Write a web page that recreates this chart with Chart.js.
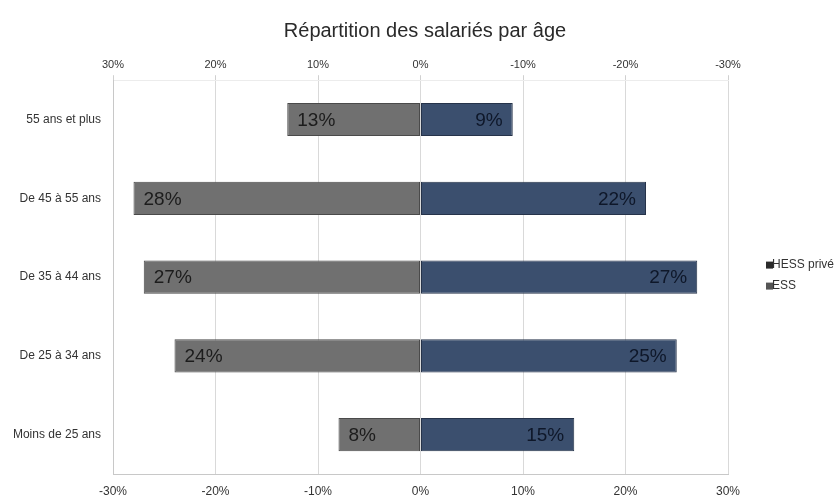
<!DOCTYPE html>
<html>
<head>
<meta charset="utf-8">
<script src="https://cdn.jsdelivr.net/npm/chart.js@4.4.1/dist/chart.umd.min.js"></script>
<style>
  html, body { margin: 0; padding: 0; background: #fff; }
  #wrap { width: 836px; height: 499px; }
</style>
</head>
<body>
<div id="wrap"><canvas id="ageChart" width="836" height="499"></canvas></div>
<script>
// Répartition des salariés par âge : ESS à gauche, HESS privé à droite
const ageGroups = ['55 ans et plus', 'De 45 à 55 ans', 'De 35 à 44 ans', 'De 25 à 34 ans', 'Moins de 25 ans'];
const essValues = [13, 28, 27, 24, 8];
const hessValues = [9, 22, 27, 25, 15];
const axisTicks = [-30, -20, -10, 0, 10, 20, 30];

const FONT = "'Liberation Sans', Arial, sans-serif";
const ESS_COLOR = '#707070';
const ESS_BORDER = '#4a4a4a';
const HESS_COLOR = '#3b4f6e';
const HESS_BORDER = '#26334a';

// pourcentages écrits dans les barres
const barLabels = {
  id: 'barLabels',
  afterDatasetsDraw(chart) {
    const { ctx } = chart;
    ctx.save();
    ctx.font = '19px ' + FONT;
    ctx.textBaseline = 'middle';
    chart.data.datasets.forEach((ds, i) => {
      const meta = chart.getDatasetMeta(i);
      meta.data.forEach((bar, j) => {
        const v = Math.abs(ds.data[j]);
        if (ds.data[j] < 0) {
          ctx.textAlign = 'left';
          ctx.fillStyle = '#1c1c1c';
          ctx.fillText(v + '%', bar.x + 10, bar.y + 1);
        } else {
          ctx.textAlign = 'right';
          ctx.fillStyle = '#0e1729';
          ctx.fillText(v + '%', bar.x - 10, bar.y + 1);
        }
      });
    });
    ctx.restore();
  }
};

// petite légende à droite du graphique
const sideLegend = {
  id: 'sideLegend',
  afterDraw(chart) {
    const { ctx, chartArea } = chart;
    const items = [
      { text: 'HESS privé', color: '#2b2b2b' },
      { text: 'ESS', color: '#555555' }
    ];
    const x = chartArea.right + 38;
    const midY = (chartArea.top + chartArea.bottom) / 2;
    ctx.save();
    ctx.font = '12px ' + FONT;
    ctx.textBaseline = 'middle';
    ctx.textAlign = 'left';
    items.forEach((it, i) => {
      const y = midY - 12 + i * 21;
      ctx.fillStyle = it.color;
      ctx.fillRect(x, y - 3.5, 7, 7);
      ctx.fillStyle = '#333';
      ctx.fillText(it.text, x + 6, y);
    });
    ctx.restore();
  }
};

new Chart(document.getElementById('ageChart'), {
  type: 'bar',
  data: {
    labels: ageGroups,
    datasets: [
      {
        label: 'ESS',
        data: essValues.map(v => -v),
        backgroundColor: ESS_COLOR,
        borderColor: ESS_BORDER,
        borderWidth: 1,
        borderSkipped: false,
        barPercentage: 0.42,
        categoryPercentage: 1
      },
      {
        label: 'HESS privé',
        data: hessValues,
        backgroundColor: HESS_COLOR,
        borderColor: HESS_BORDER,
        borderWidth: 1,
        borderSkipped: false,
        barPercentage: 0.42,
        categoryPercentage: 1
      }
    ]
  },
  options: {
    indexAxis: 'y',
    responsive: false,
    animation: false,
    layout: { padding: { left: 14, right: 0, top: 4, bottom: 0 } },
    plugins: {
      legend: { display: false },
      tooltip: { enabled: false },
      title: {
        display: true,
        text: 'Répartition des salariés par âge',
        color: '#2a2a2a',
        font: { family: FONT, size: 20, weight: 'normal' },
        padding: { top: 15, bottom: 11 }
      }
    },
    scales: {
      x: {
        position: 'bottom',
        stacked: true,
        min: -30,
        max: 30,
        afterBuildTicks: s => { s.ticks = axisTicks.map(v => ({ value: v })); },
        afterFit: s => { s.height = 25; },
        ticks: {
          color: '#333',
          font: { family: FONT, size: 12 },
          padding: 10,
          callback: v => v + '%'
        },
        grid: { color: '#d9d9d9', drawTicks: false },
        border: { color: '#c8c8c8' }
      },
      x2: {
        position: 'top',
        min: -30,
        max: 30,
        afterBuildTicks: s => { s.ticks = axisTicks.map(v => ({ value: v })); },
        ticks: {
          color: '#333',
          font: { family: FONT, size: 11 },
          padding: 4,
          callback: v => (v === 0 ? 0 : -v) + '%'
        },
        grid: { drawOnChartArea: false, color: '#d0d0d0', tickLength: 5 },
        border: { color: '#ececec' }
      },
      y: {
        stacked: true,
        afterFit: s => { s.width = 99; },
        ticks: {
          color: '#333',
          font: { family: FONT, size: 12 },
          padding: 12
        },
        grid: { display: false, drawTicks: false },
        border: { color: '#c8c8c8' }
      },
      // colonne vide à droite, réservée à la légende
      side: {
        axis: 'y',
        position: 'right',
        afterFit: s => { s.width = 108; },
        ticks: { display: false },
        grid: { display: false, drawTicks: false },
        border: { display: false }
      }
    }
  },
  plugins: [barLabels, sideLegend]
});
</script>
</body>
</html>
